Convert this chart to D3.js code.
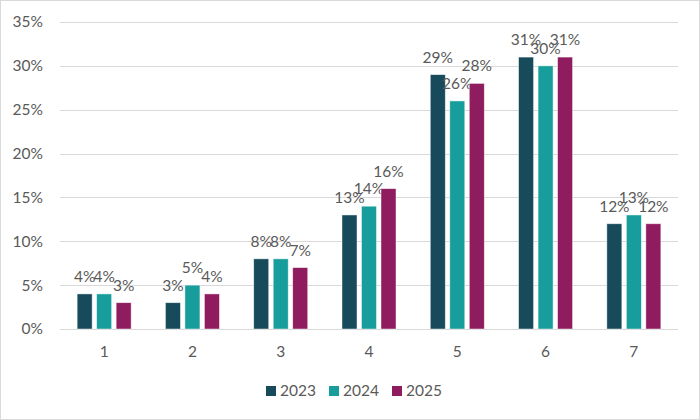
<!DOCTYPE html>
<meta charset="utf-8">
<html>
<head>
<style>
    body { margin: 0; background: #fff; }
    svg { display: block; font-family: Lato, "Open Sans", sans-serif; }
</style>
</head>
<body>
<div id="chart"></div>
<script src="https://cdn.jsdelivr.net/npm/d3@7"></script>
<script>
    // data
    let categories = ['1', '2', '3', '4', '5', '6', '7'];
    let years = ['2023', '2024', '2025'];
    let values2023 = [4, 3, 8, 13, 29, 31, 12];
    let values2024 = [4, 5, 8, 14, 26, 30, 13];
    let values2025 = [3, 4, 7, 16, 28, 31, 12];
    let yTicks = [0, 5, 10, 15, 20, 25, 30, 35];
    let colors = ['#174B5C', '#179E9C', '#8E1C5E'];

    let series = [values2023, values2024, values2025];

    let width = 700, height = 420;
    let margin = {top: 22, right: 22, bottom: 91, left: 60};
    let fontSize = 15.5;
    let textColor = '#595959';

    let svg = d3.select('#chart').append('svg')
        .attr('width', width)
        .attr('height', height);

    // outer frame
    svg.append('rect')
        .attr('x', 0.5).attr('y', 0.5)
        .attr('width', width - 1).attr('height', height - 1)
        .attr('fill', '#fff')
        .attr('stroke', '#d9d9d9');

    let x = d3.scaleBand()
        .domain(categories)
        .range([margin.left, width - margin.right]);

    let y = d3.scaleLinear()
        .domain([0, 35])
        .range([height - margin.bottom, margin.top]);

    let barW = 15, barStep = 19.5;
    let xs = d3.scaleBand().domain(years).range([-barStep * 1.5, barStep * 1.5]);

    // gridlines
    svg.append('g')
        .selectAll('line')
        .data(yTicks)
        .join('line')
        .attr('x1', margin.left)
        .attr('x2', width - margin.right)
        .attr('y1', d => Math.round(y(d)) + 0.5)
        .attr('y2', d => Math.round(y(d)) + 0.5)
        .attr('stroke', '#d9d9d9')
        .attr('stroke-width', 1);

    // y tick labels
    svg.append('g')
        .selectAll('text')
        .data(yTicks)
        .join('text')
        .attr('x', 43)
        .attr('y', d => y(d))
        .attr('dy', '0.35em')
        .attr('text-anchor', 'end')
        .attr('font-size', fontSize)
        .attr('fill', textColor)
        .text(d => d + '%');

    // x labels
    svg.append('g')
        .selectAll('text')
        .data(categories)
        .join('text')
        .attr('x', d => x(d) + x.bandwidth() / 2)
        .attr('y', 357)
        .attr('text-anchor', 'middle')
        .attr('font-size', fontSize)
        .attr('fill', textColor)
        .text(d => d);

    // bars
    let groups = svg.append('g')
        .selectAll('g')
        .data(years)
        .join('g')
        .attr('fill', (d, i) => colors[i]);

    groups.each(function(yr, si) {
        let g = d3.select(this);
        let rows = categories.map((c, ci) => ({c: c, v: series[si][ci]}));
        g.selectAll('rect')
            .data(rows)
            .join('rect')
            .attr('x', d => x(d.c) + x.bandwidth() / 2 + xs(yr) + (barStep - barW) / 2)
            .attr('y', d => y(d.v))
            .attr('width', barW)
            .attr('height', d => y(0) - y(d.v))
            .attr('stroke', '#fff')
            .attr('stroke-opacity', 0.6)
            .attr('stroke-width', 0.75);
        g.selectAll('text')
            .data(rows)
            .join('text')
            .attr('x', d => x(d.c) + x.bandwidth() / 2 + xs(yr) + barStep / 2)
            .attr('y', d => y(d.v) - 12)
            .attr('text-anchor', 'middle')
            .attr('font-size', fontSize)
            .attr('fill', textColor)
            .text(d => d.v + '%');
    });

    // legend
    let legendX = [266, 329, 392];
    let legend = svg.append('g')
        .selectAll('g')
        .data(years)
        .join('g')
        .attr('transform', (d, i) => `translate(${legendX[i]}, 391)`);
    legend.append('rect')
        .attr('x', 0).attr('y', -5)
        .attr('width', 10).attr('height', 10)
        .attr('fill', (d, i) => colors[i]);
    legend.append('text')
        .attr('x', 14)
        .attr('dy', '0.35em')
        .attr('font-size', fontSize)
        .attr('fill', textColor)
        .text(d => d);
</script>
</body>
</html>
